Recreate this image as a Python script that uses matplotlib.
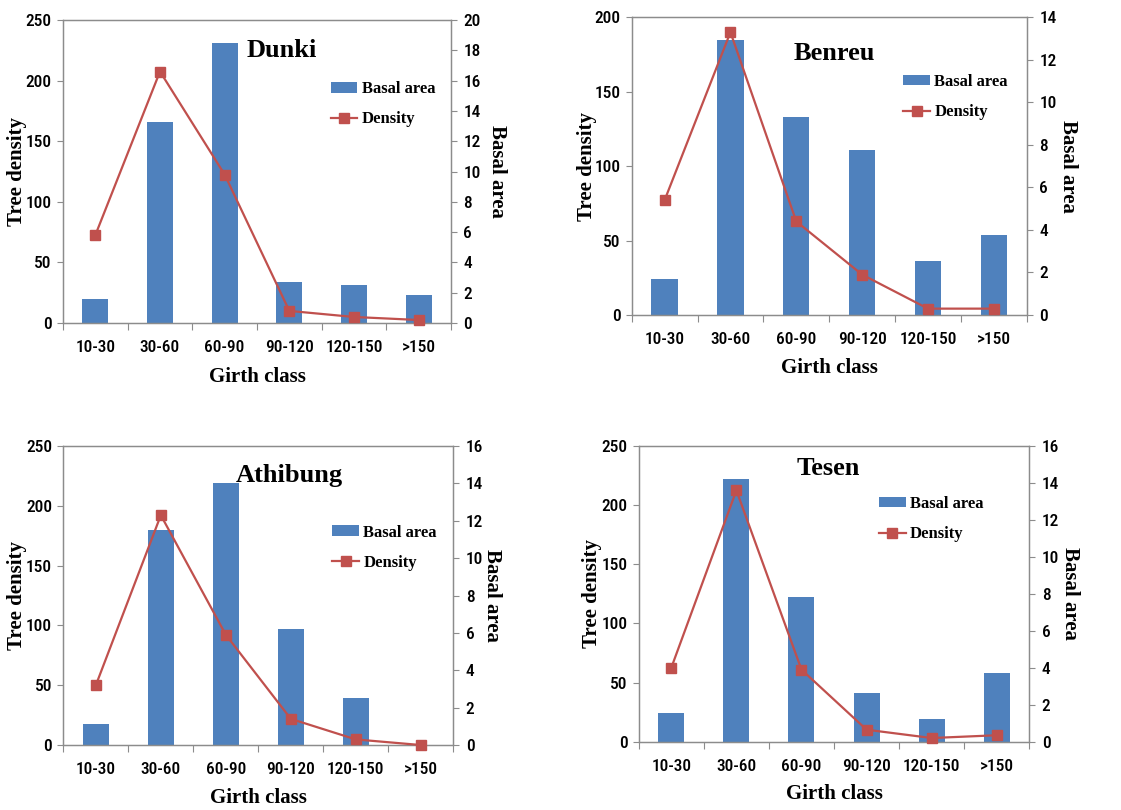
import matplotlib.pyplot as plt
import numpy as np
from matplotlib.ticker import MultipleLocator, FixedLocator, NullFormatter

plt.rcParams['font.family'] = ['Roboto Condensed', 'Carlito', 'DejaVu Sans']

girth_classes = ['10-30', '30-60', '60-90', '90-120', '120-150', '>150']

dunki_bars = [20, 166, 231, 34, 31, 23]
dunki_line = [5.8, 16.6, 9.8, 0.8, 0.4, 0.2]

benreu_bars = [24, 185, 133, 111, 36, 54]
benreu_line = [5.4, 13.3, 4.4, 1.9, 0.3, 0.3]

athibung_bars = [18, 180, 219, 97, 39, 0]
athibung_line = [3.2, 12.3, 5.9, 1.4, 0.3, 0.0]

tesen_bars = [24, 222, 122, 41, 19, 58]
tesen_line = [4.0, 13.6, 3.9, 0.65, 0.2, 0.35]

BAR_COLOR = '#4F81BD'
LINE_COLOR = '#C0504D'
SPINE_COLOR = '#8C8C8C'
SERIF = 'Liberation Serif'

panels = [
    dict(name='Dunki', bars=dunki_bars, line=dunki_line,
         lmax=250, rmax=20,
         rect=[0.0562, 0.6012, 0.3461, 0.3741], title_xy=(0.565, 0.90),
         leg_x=0.69, leg_y=0.722, ylab_x=(-0.118, 1.118)),
    dict(name='Benreu', bars=benreu_bars, line=benreu_line,
         lmax=200, rmax=14,
         rect=[0.5635, 0.6111, 0.3524, 0.3675], title_xy=(0.513, 0.88),
         leg_x=0.688, leg_y=0.732, ylab_x=(-0.114, 1.105)),
    dict(name='Athibung', bars=athibung_bars, line=athibung_line,
         lmax=250, rmax=16,
         rect=[0.0565, 0.0802, 0.3479, 0.3691], title_xy=(0.58, 0.90),
         leg_x=0.69, leg_y=0.66, ylab_x=(-0.119, 1.10)),
    dict(name='Tesen', bars=tesen_bars, line=tesen_line,
         lmax=250, rmax=16,
         rect=[0.5698, 0.0843, 0.3484, 0.3651], title_xy=(0.485, 0.925),
         leg_x=0.615, leg_y=0.753, ylab_x=(-0.12, 1.104)),
]

fig = plt.figure(figsize=(11.21, 8.10), dpi=100)

x = np.arange(len(girth_classes))

for p in panels:
    ax = fig.add_axes(p['rect'])
    ax2 = ax.twinx()

    b = ax.bar(x, p['bars'], width=0.4, color=BAR_COLOR, label='Basal area', zorder=2)
    l, = ax2.plot(x, p['line'], color=LINE_COLOR, lw=1.6, marker='s', ms=6.5,
                  label='Density', zorder=3, clip_on=False)

    ax.set_xlim(-0.5, len(girth_classes) - 0.5)
    ax.set_ylim(0, p['lmax'])
    ax2.set_ylim(0, p['rmax'])
    ax.yaxis.set_major_locator(MultipleLocator(50))
    ax2.yaxis.set_major_locator(MultipleLocator(2))

    # category boundaries carry the tick marks; names sit centred on each category
    ax.xaxis.set_major_locator(FixedLocator(np.arange(-0.5, len(girth_classes), 1.0)))
    ax.xaxis.set_major_formatter(NullFormatter())
    ax.set_xticks(x, girth_classes, minor=True)
    ax.tick_params(axis='x', which='major', direction='out', length=5,
                   color=SPINE_COLOR, width=0.8)
    ax.tick_params(axis='x', which='minor', length=0, pad=12.5, labelsize=12.5)
    ax.tick_params(axis='y', direction='out', length=4, color=SPINE_COLOR,
                   width=0.8, labelsize=12.5, pad=4)
    ax2.tick_params(axis='y', direction='out', length=4, color=SPINE_COLOR,
                    width=0.8, labelsize=12.5, pad=5)
    for lbl in ax.get_xticklabels(minor=True) + ax.get_yticklabels() + ax2.get_yticklabels():
        lbl.set_fontweight('medium')

    for ax_ in (ax, ax2):
        for s in ax_.spines.values():
            s.set_color(SPINE_COLOR)
            s.set_linewidth(0.9)

    ax.set_ylabel('Tree density', family=SERIF, fontweight='bold', fontsize=15)
    ax.yaxis.set_label_coords(p['ylab_x'][0], 0.5)
    ax.yaxis.label.set_va('center')
    ax2.set_ylabel('Basal area', family=SERIF, fontweight='bold', fontsize=15, rotation=270)
    ax2.yaxis.set_label_coords(p['ylab_x'][1], 0.5)
    ax2.yaxis.label.set_va('center')
    ax.set_xlabel('Girth class', family=SERIF, fontweight='bold', fontsize=15)
    ax.xaxis.set_label_coords(0.5, -0.178)
    ax.xaxis.label.set_va('center')

    ax.text(p['title_xy'][0], p['title_xy'][1], p['name'], transform=ax.transAxes,
            ha='center', va='center', family=SERIF, fontweight='bold', fontsize=19)

    ax2.legend([b, l], ['Basal area', 'Density'], loc='center left',
               bbox_to_anchor=(p['leg_x'], p['leg_y']), frameon=False,
               prop=dict(family=SERIF, weight='bold', size=12),
               handlelength=1.6, handleheight=0.6, handletextpad=0.25,
               labelspacing=0.85, borderaxespad=0, borderpad=0)

fig.savefig('out.png', dpi=100, facecolor='white')
